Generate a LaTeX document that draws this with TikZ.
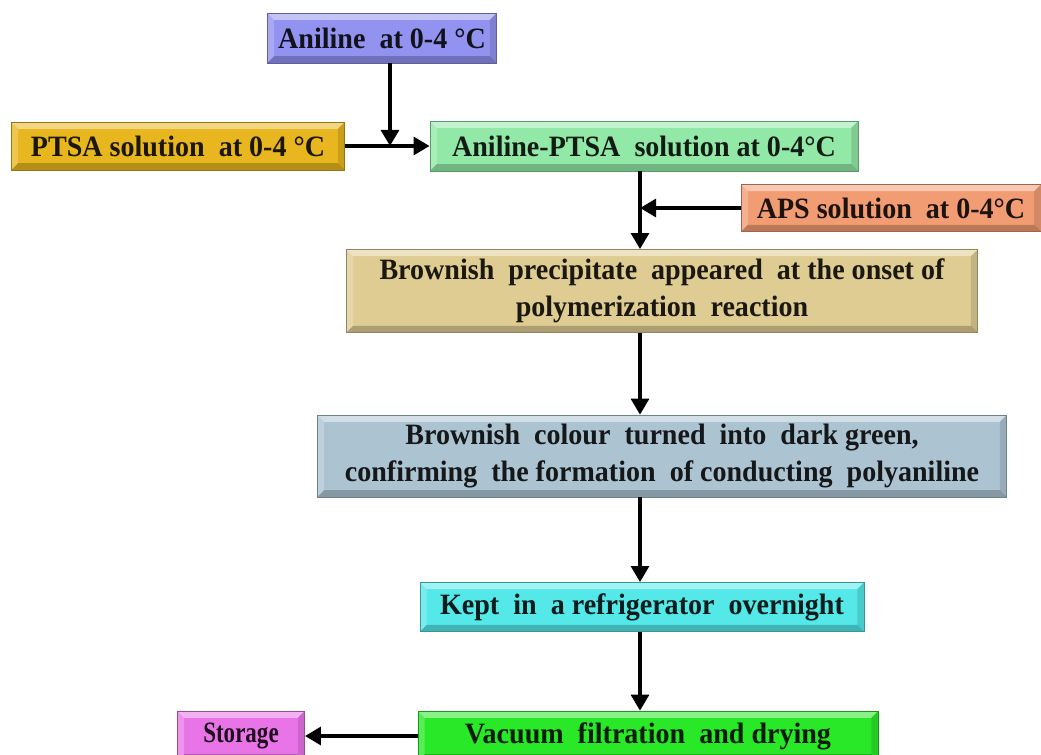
\documentclass[tikz,border=0pt]{standalone}
\usepackage{fontspec}
\usetikzlibrary{arrows.meta}
\newfontfamily\boxfont[FakeStretch=0.95]{Liberation Serif}
\newfontfamily\narrowfont[FakeStretch=0.78]{Liberation Serif}

\definecolor{aniblue}{RGB}{146,146,240}
\definecolor{ptsagold}{RGB}{232,182,30}
\definecolor{mixgreen}{RGB}{146,232,166}
\definecolor{apsorange}{RGB}{242,156,116}
\definecolor{preckhaki}{RGB}{222,204,146}
\definecolor{greyblue}{RGB}{172,196,210}
\definecolor{fridgecyan}{RGB}{84,232,232}
\definecolor{vacgreen}{RGB}{40,232,40}
\definecolor{storepink}{RGB}{232,116,232}

\def\bv{0.17cm}
\tikzset{
    bevel/.style={rectangle, fill=#1, draw=#1!65!black, line width=0.4pt,
        text=#1!12!black, inner sep=0pt, align=center,
        font=\boxfont\bfseries\fontsize{21}{26.5}\selectfont,
        path picture={
            \coordinate (nw) at (path picture bounding box.north west);
            \coordinate (ne) at (path picture bounding box.north east);
            \coordinate (sw) at (path picture bounding box.south west);
            \coordinate (se) at (path picture bounding box.south east);
            \fill[white, opacity=0.45] (nw) -- (ne) -- ([xshift=-\bv,yshift=-\bv]ne) -- ([xshift=\bv,yshift=-\bv]nw) -- cycle;
            \fill[white, opacity=0.22] (nw) -- (sw) -- ([xshift=\bv,yshift=\bv]sw) -- ([xshift=\bv,yshift=-\bv]nw) -- cycle;
            \fill[black, opacity=0.22] (sw) -- (se) -- ([xshift=-\bv,yshift=\bv]se) -- ([xshift=\bv,yshift=\bv]sw) -- cycle;
            \fill[black, opacity=0.12] (ne) -- (se) -- ([xshift=-\bv,yshift=\bv]se) -- ([xshift=-\bv,yshift=-\bv]ne) -- cycle;
        }},
    flow/.style={line width=2.8pt, -{Triangle[length=0.4cm,width=0.44cm]}}
}

\begin{document}
\begin{tikzpicture}[x=0.025cm, y=-0.025cm]
    \useasboundingbox (0,0) rectangle (1041,755);
    \clip (0,0) rectangle (1041,755);

    % boxes
    \node[bevel=aniblue, minimum width=5.73cm, minimum height=1.25cm] (aniline) at (382,38) {Aniline~ at 0-4 °C};
    \node[bevel=ptsagold, minimum width=8.33cm, minimum height=1.2cm] (ptsa) at (178,146) {PTSA solution~ at 0-4 °C};
    \node[bevel=mixgreen, minimum width=10.7cm, minimum height=1.25cm] (mix) at (644,146) {Aniline-PTSA~ solution at 0-4°C};
    \node[bevel=apsorange, minimum width=7.5cm, minimum height=1.18cm] (aps) at (891,208) {APS solution~ at 0-4°C};
    \node[bevel=preckhaki, minimum width=15.78cm, minimum height=2.08cm] (precip) at (662,291)
        {Brownish~ precipitate~ appeared~ at the onset of\\ polymerization~ reaction};
    \node[bevel=greyblue, minimum width=17.23cm, minimum height=2.05cm] (green) at (662,456)
        {Brownish~ colour~ turned~ into~ dark green,\\ confirming~ the formation~ of conducting~ polyaniline};
    \node[bevel=fridgecyan, minimum width=11.1cm, minimum height=1.23cm] (fridge) at (642,607) {Kept~ in~ a refrigerator~ overnight};
    \node[bevel=vacgreen, minimum width=11.5cm, minimum height=1.25cm] (vacuum) at (648,736) {Vacuum~ filtration~ and drying};
    \node[bevel=storepink, minimum width=3.18cm, minimum height=1.25cm,
        font=\narrowfont\bfseries\fontsize{21}{26.5}\selectfont] (storage) at (241,736) {Storage};

    % junctions
    \coordinate (j1) at (390,146);
    \coordinate (j2) at (640,208);

    % connectors
    \draw[flow] (ptsa.east) -- (mix.west);
    \draw[flow] (aniline.south -| j1) -- (j1);
    \draw[flow] (mix.south -| j2) -- (precip.north -| j2);
    \draw[flow] (aps.west) -- (j2);
    \draw[flow] (precip.south -| j2) -- (green.north -| j2);
    \draw[flow] (green.south -| j2) -- (fridge.north -| j2);
    \draw[flow] (fridge.south -| j2) -- (vacuum.north -| j2);
    \draw[flow] (vacuum.west) -- (storage.east);
\end{tikzpicture}
\end{document}
